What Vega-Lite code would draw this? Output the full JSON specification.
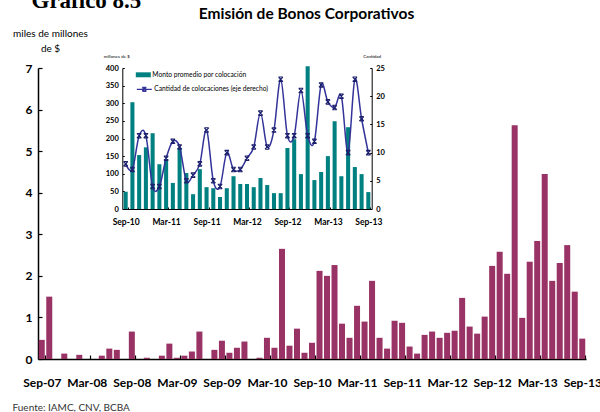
{
  "$schema": "https://vega.github.io/schema/vega-lite/v6.json",
  "width": 548,
  "height": 291,
  "autosize": {"type": "none"},
  "padding": {"left": 38, "top": 68, "right": 14, "bottom": 53},
  "background": "white",
  "config": {
    "view": {"stroke": null},
    "font": "Lato",
    "axis": {"grid": false, "labelColor": "#000", "titleColor": "#000", "domainColor": "#000", "tickColor": "#000", "labelFont": "Lato", "titleFont": "Lato"}
  },
  "datasets": {
    "main": [
      {"month": "Sep-07", "value": 0.46}, {"month": "Oct-07", "value": 1.5}, {"month": "Nov-07", "value": 0},
      {"month": "Dec-07", "value": 0.13}, {"month": "Jan-08", "value": 0}, {"month": "Feb-08", "value": 0.1},
      {"month": "Mar-08", "value": 0}, {"month": "Apr-08", "value": 0}, {"month": "May-08", "value": 0.08},
      {"month": "Jun-08", "value": 0.25}, {"month": "Jul-08", "value": 0.22}, {"month": "Aug-08", "value": 0},
      {"month": "Sep-08", "value": 0.66}, {"month": "Oct-08", "value": 0}, {"month": "Nov-08", "value": 0.03},
      {"month": "Dec-08", "value": 0}, {"month": "Jan-09", "value": 0.08}, {"month": "Feb-09", "value": 0.37},
      {"month": "Mar-09", "value": 0.03}, {"month": "Apr-09", "value": 0.08}, {"month": "May-09", "value": 0.18},
      {"month": "Jun-09", "value": 0.66}, {"month": "Jul-09", "value": 0}, {"month": "Aug-09", "value": 0.22},
      {"month": "Sep-09", "value": 0.44}, {"month": "Oct-09", "value": 0.15}, {"month": "Nov-09", "value": 0.27},
      {"month": "Dec-09", "value": 0.42}, {"month": "Jan-10", "value": 0}, {"month": "Feb-10", "value": 0.03},
      {"month": "Mar-10", "value": 0.51}, {"month": "Apr-10", "value": 0.27}, {"month": "May-10", "value": 2.65},
      {"month": "Jun-10", "value": 0.32}, {"month": "Jul-10", "value": 0.73}, {"month": "Aug-10", "value": 0.15},
      {"month": "Sep-10", "value": 0.39}, {"month": "Oct-10", "value": 2.12}, {"month": "Nov-10", "value": 2.0},
      {"month": "Dec-10", "value": 2.26}, {"month": "Jan-11", "value": 0.85}, {"month": "Feb-11", "value": 0.51},
      {"month": "Mar-11", "value": 1.28}, {"month": "Apr-11", "value": 0.9}, {"month": "May-11", "value": 1.88},
      {"month": "Jun-11", "value": 0.51}, {"month": "Jul-11", "value": 0.25}, {"month": "Aug-11", "value": 0.92},
      {"month": "Sep-11", "value": 0.87}, {"month": "Oct-11", "value": 0.3}, {"month": "Nov-11", "value": 0.13},
      {"month": "Dec-11", "value": 0.58}, {"month": "Jan-12", "value": 0.66}, {"month": "Feb-12", "value": 0.51},
      {"month": "Mar-12", "value": 0.63}, {"month": "Apr-12", "value": 0.68}, {"month": "May-12", "value": 1.47},
      {"month": "Jun-12", "value": 0.78}, {"month": "Jul-12", "value": 0.61}, {"month": "Aug-12", "value": 1.02},
      {"month": "Sep-12", "value": 2.24}, {"month": "Oct-12", "value": 2.58}, {"month": "Nov-12", "value": 2.05},
      {"month": "Dec-12", "value": 5.62}, {"month": "Jan-13", "value": 0.99}, {"month": "Feb-13", "value": 2.34},
      {"month": "Mar-13", "value": 2.84}, {"month": "Apr-13", "value": 4.45}, {"month": "May-13", "value": 1.88},
      {"month": "Jun-13", "value": 2.31}, {"month": "Jul-13", "value": 2.74}, {"month": "Aug-13", "value": 1.62},
      {"month": "Sep-13", "value": 0.49}
    ],
    "inset": [
      {"month": "Sep-10", "monto": 49, "cantidad": 8}, {"month": "Oct-10", "monto": 303, "cantidad": 7},
      {"month": "Nov-10", "monto": 153, "cantidad": 13}, {"month": "Dec-10", "monto": 175, "cantidad": 13},
      {"month": "Jan-11", "monto": 215, "cantidad": 4}, {"month": "Feb-11", "monto": 127, "cantidad": 4},
      {"month": "Mar-11", "monto": 142, "cantidad": 9}, {"month": "Apr-11", "monto": 74, "cantidad": 12},
      {"month": "May-11", "monto": 173, "cantidad": 11}, {"month": "Jun-11", "monto": 102, "cantidad": 5},
      {"month": "Jul-11", "monto": 42, "cantidad": 6}, {"month": "Aug-11", "monto": 113, "cantidad": 8},
      {"month": "Sep-11", "monto": 62, "cantidad": 14}, {"month": "Oct-11", "monto": 59, "cantidad": 5},
      {"month": "Nov-11", "monto": 34, "cantidad": 4}, {"month": "Dec-11", "monto": 59, "cantidad": 10},
      {"month": "Jan-12", "monto": 93, "cantidad": 7}, {"month": "Feb-12", "monto": 71, "cantidad": 7},
      {"month": "Mar-12", "monto": 71, "cantidad": 9}, {"month": "Apr-12", "monto": 62, "cantidad": 11},
      {"month": "May-12", "monto": 88, "cantidad": 17}, {"month": "Jun-12", "monto": 68, "cantidad": 11},
      {"month": "Jul-12", "monto": 45, "cantidad": 14}, {"month": "Aug-12", "monto": 45, "cantidad": 23},
      {"month": "Sep-12", "monto": 173, "cantidad": 13}, {"month": "Oct-12", "monto": 198, "cantidad": 13},
      {"month": "Nov-12", "monto": 99, "cantidad": 21}, {"month": "Dec-12", "monto": 405, "cantidad": 13},
      {"month": "Jan-13", "monto": 82, "cantidad": 12}, {"month": "Feb-13", "monto": 105, "cantidad": 22},
      {"month": "Mar-13", "monto": 150, "cantidad": 19}, {"month": "Apr-13", "monto": 249, "cantidad": 18},
      {"month": "May-13", "monto": 93, "cantidad": 20}, {"month": "Jun-13", "monto": 232, "cantidad": 10},
      {"month": "Jul-13", "monto": 119, "cantidad": 23}, {"month": "Aug-13", "monto": 99, "cantidad": 16},
      {"month": "Sep-13", "monto": 48, "cantidad": 10}
    ]
  },
  "layer": [
    {
      "data": {"name": "main"},
      "mark": {"type": "bar", "color": "#993366"},
      "encoding": {
        "x": {
          "field": "month", "type": "ordinal", "sort": null,
          "scale": {"paddingInner": 0.2, "paddingOuter": 0.1},
          "axis": {
            "orient": "bottom",
            "values": ["Sep-07", "Mar-08", "Sep-08", "Mar-09", "Sep-09", "Mar-10", "Sep-10", "Mar-11", "Sep-11", "Mar-12", "Sep-12", "Mar-13", "Sep-13"],
            "labelAngle": 0, "labelFontWeight": "bold", "labelFontSize": 12, "labelPadding": 22,
            "domainWidth": 1.5, "tickSize": -4, "tickWidth": 1.2, "tickBand": "extent",
            "title": "Fuente: IAMC, CNV, BCBA", "titleX": -26, "titleY": 48, "titleAlign": "left",
            "titleBaseline": "middle", "titleFontSize": 10, "titleFontWeight": "normal", "titleColor": "#333"
          }
        },
        "y": {
          "field": "value", "type": "quantitative",
          "scale": {"domain": [0, 7], "nice": false},
          "axis": {
            "orient": "left",
            "values": [0, 1, 2, 3, 4, 5, 6, 7],
            "labelFontWeight": "bold", "labelFontSize": 12, "labelPadding": 10,
            "domainWidth": 1.5, "tickSize": -4, "tickWidth": 1.2,
            "title": ["miles de millones", "de $"], "titleAngle": 0, "titleAlign": "center",
            "titleBaseline": "top", "titleX": 12, "titleY": -40, "titleFontSize": 10,
            "titleFontWeight": "normal", "titleLineHeight": 15
          }
        }
      }
    },
    {
      "data": {"name": "inset"},
      "mark": {"type": "bar"},
      "encoding": {
        "x": {
          "field": "month", "type": "ordinal", "sort": null,
          "scale": {"range": [84.3, 333.7], "paddingInner": 0.4, "paddingOuter": 0.2},
          "axis": {
            "orient": "bottom", "offset": -150,
            "values": ["Sep-10", "Mar-11", "Sep-11", "Mar-12", "Sep-12", "Mar-13", "Sep-13"],
            "labelAngle": 0, "labelFontWeight": "bold", "labelFontSize": 8.5, "labelPadding": 10.5,
            "domainWidth": 1, "tickSize": -2, "tickWidth": 1, "tickBand": "extent",
            "title": "Gráfico 8.5", "titleFont": "Liberation Serif", "titleFontSize": 23,
            "titleFontWeight": "bold", "titleX": -7, "titleY": -202, "titleAlign": "left",
            "titleBaseline": "alphabetic"
          }
        },
        "y": {
          "field": "monto", "type": "quantitative",
          "scale": {"domain": [0, 400], "range": [141, 0], "nice": false},
          "axis": {
            "orient": "left", "offset": -84.3,
            "values": [0, 50, 100, 150, 200, 250, 300, 350, 400],
            "labelFontWeight": "bold", "labelFontSize": 7.5, "labelPadding": 6,
            "domainWidth": 1, "tickSize": -2, "tickWidth": 1,
            "title": "millones de $", "titleAngle": 0, "titleAlign": "center", "titleBaseline": "middle",
            "titleX": -6, "titleY": -12, "titleFontSize": 4.5, "titleFontWeight": "normal"
          }
        },
        "fill": {
          "datum": "Monto promedio por colocación", "type": "nominal",
          "scale": {"range": ["#008080"]},
          "legend": {
            "orient": "none", "legendX": 97.8, "legendY": -0.7, "title": null, "padding": 0,
            "symbolType": "M-1,-0.33H1V0.33H-1Z", "symbolSize": 225, "symbolStrokeWidth": 0,
            "labelFont": "Lato", "labelFontSize": 6.7, "labelOffset": 1.5, "labelColor": "#000"
          }
        }
      }
    },
    {
      "data": {"name": "inset"},
      "mark": {"type": "line", "interpolate": "cardinal", "strokeWidth": 1.5},
      "encoding": {
        "x": {
          "field": "month", "type": "ordinal", "sort": null,
          "scale": {"type": "point", "range": [84.3, 333.7], "padding": 0.5},
          "axis": {
            "orient": "top", "domain": false, "ticks": false, "labels": false,
            "title": "Emisión de Bonos Corporativos", "titleX": 268, "titleY": -50,
            "titleAlign": "center", "titleBaseline": "alphabetic", "titleFontSize": 15.5,
            "titleFontWeight": "bold"
          }
        },
        "y": {
          "field": "cantidad", "type": "quantitative",
          "scale": {"domain": [0, 25], "range": [141, 0], "nice": false},
          "axis": {
            "orient": "right", "offset": -214.3,
            "values": [0, 5, 10, 15, 20, 25],
            "labelFontWeight": "bold", "labelFontSize": 7.5, "labelPadding": 6,
            "domainWidth": 1, "tickSize": -2, "tickWidth": 1,
            "title": "Cantidad", "titleAngle": 0, "titleAlign": "center", "titleBaseline": "middle",
            "titleX": 0, "titleY": -12, "titleFontSize": 4.5, "titleFontWeight": "normal"
          }
        },
        "stroke": {
          "datum": "Cantidad de colocaciones (eje derecho)", "type": "nominal",
          "scale": {"range": ["#333399"]},
          "legend": {
            "orient": "none", "legendX": 97.8, "legendY": 12.8, "title": null, "padding": 0,
            "symbolType": "M-1,0H1M-0.27,-0.27L0.27,0.27M-0.27,0.27L0.27,-0.27M-0.27,-0.27H0.27M-0.27,0.27H0.27",
            "symbolSize": 225, "symbolStrokeWidth": 1.3, "symbolFillColor": "transparent",
            "labelFont": "Lato", "labelFontSize": 6.7, "labelOffset": 1.5, "labelColor": "#000"
          }
        }
      }
    },
    {
      "data": {"name": "inset"},
      "mark": {"type": "point", "shape": "M-1,-1L1,1M-1,1L1,-1M-1,-1H1M-1,1H1", "filled": false, "size": 20, "stroke": "#1B1F6B", "strokeWidth": 1.1, "opacity": 1},
      "encoding": {
        "x": {
          "field": "month", "type": "ordinal", "sort": null,
          "scale": {"type": "point", "range": [84.3, 333.7], "padding": 0.5},
          "axis": null
        },
        "y": {
          "field": "cantidad", "type": "quantitative",
          "scale": {"domain": [0, 25], "range": [141, 0], "nice": false},
          "axis": null
        }
      }
    }
  ],
  "resolve": {"scale": {"x": "independent", "y": "independent", "fill": "independent", "stroke": "independent"}}
}
